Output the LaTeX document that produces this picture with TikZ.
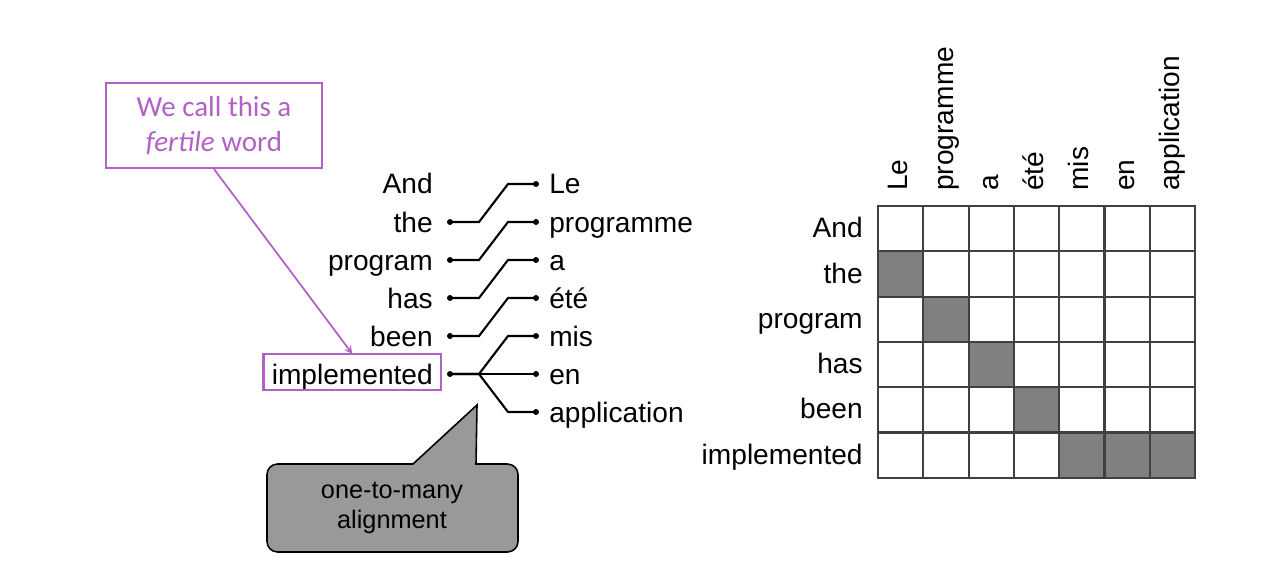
\documentclass[tikz,border=0pt]{standalone}
\usepackage{fontspec}
\setmainfont{Liberation Sans}
\newfontfamily\notefont{Carlito}
\usepackage{xcolor}
\usepackage{tikz}
\usetikzlibrary{arrows,positioning,calc}
\definecolor{fertcol}{RGB}{178,98,196}
\definecolor{bubblegray}{RGB}{153,153,153}
\definecolor{cellgray}{RGB}{128,128,128}

\begin{document}
\begin{tikzpicture}[
    x=0.02cm, y=-0.02cm,
    word/.style={font=\fontsize{16pt}{19pt}\selectfont, inner xsep=4.5pt, inner ysep=1pt, text height=16pt, text depth=2.4pt},
    dot/.style={circle, fill=black, inner sep=0pt, minimum size=3.4pt},
    link/.style={line width=1.2pt},
    fertile/.style={rectangle, draw=fertcol, line width=1.2pt, text=fertcol, align=center, font=\notefont\fontsize{16.5pt}{20pt}\selectfont, minimum width=4.32cm, minimum height=1.7cm},
    fertarrow/.style={draw=fertcol, line width=1pt, ->, >=stealth},
    bubble/.style={draw=black, fill=bubblegray, line width=0.9pt},
    cell/.style={draw=black!75, line width=1.2pt},
    rowlab/.style={font=\fontsize{16pt}{19pt}\selectfont, inner sep=0pt, anchor=base east},
    collab/.style={font=\fontsize{16pt}{19pt}\selectfont, inner sep=0pt, anchor=base west, rotate=90}
]
    \useasboundingbox (0,0) rectangle (1261,588);

    % word alignment
    \foreach \w [count=\i] in {And,the,program,has,been,implemented}
        \node[word, anchor=base east] (e\i) at (441,{156+38*\i}) {\w};
    \foreach \w [count=\j] in {Le,programme,a,été,mis,en,application}
        \node[word, anchor=base west] (f\j) at (541,{156+38*\j}) {\w};
    \foreach \i in {2,...,6}
        \node[dot] (l\i) at (450,{146+38*\i}) {};
    \foreach \j in {1,...,7}
        \node[dot] (r\j) at (536,{146+38*\j}) {};
    \foreach \e/\f in {2/1,3/2,4/3,5/4,6/5,6/6,6/7}
        \draw[link] (l\e.center) -- ++(29,0) -- ($(r\f.center)+(-28,0)$) -- (r\f.center);

    \draw[draw=fertcol, line width=1.2pt] (e6.south west) rectangle (e6.north east);
    \node[fertile] (fert) at (214,125.5) {We call this a\\\textit{fertile} word};
    \draw[fertarrow] (fert.south) -- (e6.north);

    \draw[bubble] (413,464) -- (477,405) -- (476,464) [rounded corners=6pt] -- (518,464) -- (518,552) -- (267,552) -- (267,464) [sharp corners] -- cycle;
    \node[align=center, font=\fontsize{14.4pt}{17pt}\selectfont] (align) at (392,508) {one-to-many\\alignment};

    % alignment matrix
    \foreach \i/\j in {2/1,3/2,4/3,5/4,6/5,6/6,6/7}
        \fill[cellgray] ({878+45.3*(\j-1)},{206+45.3*(\i-1)}) rectangle ++(45.3,45.3);
    \foreach \i in {1,...,6}
        \foreach \j in {1,...,7}
            \draw[cell] ({878+45.3*(\j-1)},{206+45.3*(\i-1)}) rectangle ++(45.3,45.3);
    \foreach \w [count=\i] in {And,the,program,has,been,implemented}
        \node[rowlab] (row\i) at (863,{183.4+45.3*\i+9}) {\w};
    \foreach \w [count=\j] in {Le,programme,a,été,mis,en,application}
        \node[collab] (col\j) at ({855.4+45.3*\j+7},191) {\w};
\end{tikzpicture}
\end{document}
